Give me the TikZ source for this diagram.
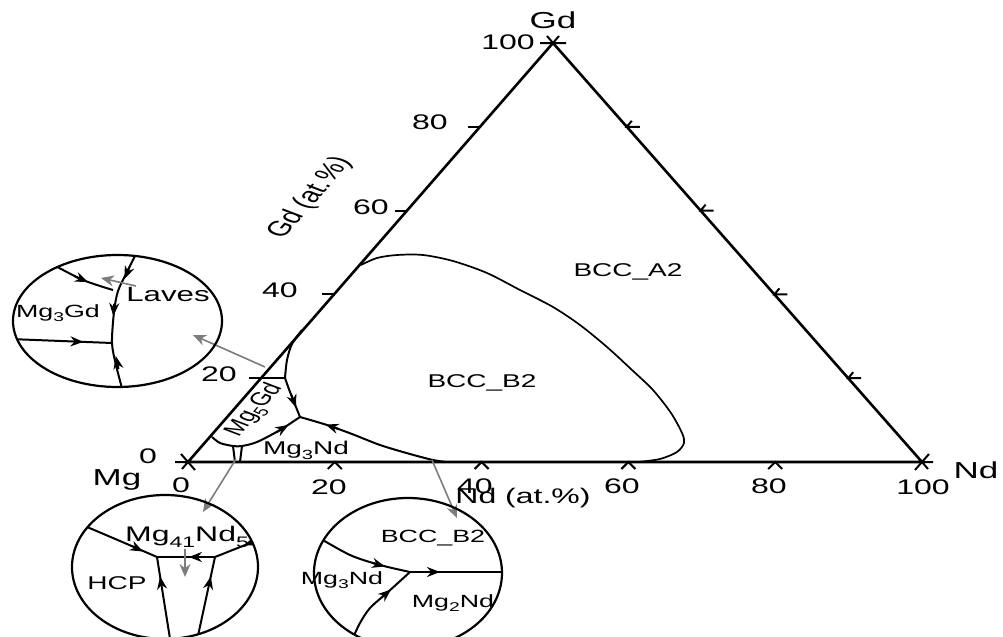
\documentclass[tikz,border=0pt]{standalone}
\usepackage{fontspec}
\setmainfont{Liberation Sans}
\usetikzlibrary{arrows.meta,decorations.markings}
\newcommand\sqz[1]{\scalebox{1}[0.66]{#1}}
\newcommand\sqr[2]{\scalebox{1}[0.66]{\rotatebox{#1}{#2}}}
\newcommand\sbs[1]{\raisebox{-0.5ex}{\scalebox{0.72}{#1}}}
\tikzset{
  edge/.style={line width=1.3pt},
  bnd/.style={line width=0.85pt},
  ln/.style={line width=1pt},
  circ/.style={line width=1.1pt},
  tip/.style={line width=1pt, -{Stealth[length=6.5pt,width=5pt]}},
  gry/.style={line width=0.8pt, draw={rgb,255:red,125;green,125;blue,125}, -{Stealth[length=6.5pt,width=5.5pt]}},
  ar/.style={postaction={decorate,decoration={markings,mark=at position #1 with {\arrow{Stealth[length=6.5pt,width=5pt]}}}}},
  ax/.style={font=\fontsize{16}{18}\selectfont, inner sep=0pt},
  big/.style={font=\fontsize{17.5}{19}\selectfont, inner sep=0pt},
  ph/.style={font=\fontsize{14}{16}\selectfont, inner sep=0pt},
  cl/.style={font=\fontsize{13.4}{15}\selectfont, inner sep=0pt},
}
\begin{document}
\begin{tikzpicture}[x=0.5pt,y=-0.5pt]
\useasboundingbox (0,0) rectangle (1003,637);
% triangle
\coordinate (Mg) at (188,462);
\coordinate (Nd) at (922,462);
\coordinate (Gd) at (553,43);
\draw[edge] (Mg) -- (Nd) -- (Gd) -- cycle;
% corner crosses
\draw[ln] (175,462) -- (Mg) (Mg) -- (182,469) (181,454) -- (195,470);
\draw[ln] (540,43) -- (566,43) (Gd) -- (559,36) (Gd) -- (547,36);
\draw[ln] (Nd) -- (933,462) (Nd) -- (928,469) (915,470) -- (929,454);
% ticks
\foreach \x in {334.8,481.6,628.4,775.2} \draw[ln] (\x-7,469) -- (\x,462) -- (\x+7,469);
\foreach \k in {1,2,3,4} {
  \draw[ln] (188+\k*73-12, 462-\k*83.8) -- (188+\k*73, 462-\k*83.8);
  \draw[ln] (922-\k*73.8+13, 462-\k*83.8) -- (922-\k*73.8, 462-\k*83.8) -- (922-\k*73.8+5, 462-\k*83.8-6);
}
% axis labels
\node[big] (lGd) at (553,20) {\sqz{Gd}};
\node[big] (lNd) at (976,470) {\sqz{Nd}};
\node[big] (lMg) at (117,480) {\sqz{Mg}};
\node[ax] (g100) at (508,42) {\sqz{100}};
\node[ax] (g80) at (430,122) {\sqz{80}};
\node[ax] (g60) at (371,207) {\sqz{60}};
\node[ax] (g40) at (280,290) {\sqz{40}};
\node[ax] (g20) at (219,374) {\sqz{20}};
\node[ax] (g0) at (148,456) {\sqz{0}};
\node[ax] (n0) at (181,485) {\sqz{0}};
\node[ax] (n20) at (329,487) {\sqz{20}};
\node[ax] (n40) at (475,486) {\sqz{40}};
\node[ax] (n60) at (622,486) {\sqz{60}};
\node[ax] (n80) at (769,486) {\sqz{80}};
\node[ax] (n100) at (923,487) {\sqz{100}};
\node[ax] (tGd) at (310,198) {\sqr{60}{Gd (at.\%)}};
\node[ax] (tNd) at (523,498) {\sqz{Nd (at.\%)}};
% BCC_B2 boundary
\draw[bnd] plot[smooth] coordinates {(361,265) (377,258) (397,255) (423,255) (453,261) (487,273) (520,290) (553,307) (580,325) (607,347) (632,370) (653,390) (671,413) (682,433) (684,443) (677,452) (660,459) (638,462)};
% Laves sliver
\draw[ln] plot[smooth] coordinates {(302,330) (292,344) (287,360) (285,378)};
\draw[ln] (261,378) -- (285,378);
\coordinate (J1) at (300,417);
\draw[ln] plot[smooth] coordinates {(285,378) (290,392) (296,407) (J1)};
\draw[tip] (291.5,395) -- (296,407.5);
\draw[ln] plot[smooth] coordinates {(J1) (327,425) (352,434) (380,445) (410,454) (433,460) (446,462)};
\draw[tip] (338,428.8) -- (325.5,424.5);
\draw[ln] plot[smooth] coordinates {(212,437) (220,443) (233,446) (242,446) (257,442) (280,430) (J1)};
\draw[tip] (276,432.5) -- (288.5,425);
\draw[ln] (233,446) -- (235,462) (242,446) -- (240,462);
% main labels
\node[ph] (A2) at (628,272) {\sqz{BCC\_A2}};
\node[ph] (B2) at (482,383) {\sqz{BCC\_B2}};
\node[ph] (m5) at (255,410) {\sqr{60}{Mg\sbs{5}Gd}};
\node[ph] (m3) at (306,450) {\sqz{Mg\sbs{3}Nd}};
% gray pointers
\coordinate (p1a) at (265,367); \coordinate (p1b) at (193,335);
\coordinate (p2a) at (236,459); \coordinate (p2b) at (203,512);
\coordinate (p3a) at (432,460); \coordinate (p3b) at (457,518);
\draw[gry] (p1a) -- (p1b);
\draw[gry] (p2a) -- (p2b);
\draw[gry] (p3a) -- (p3b);
% circle 1
\begin{scope}
\clip (117.5,321) ellipse [x radius=104.5, y radius=66];
\draw[ln] plot[smooth] coordinates {(138,250) (127,272) (118,291) (114,312) (112,343) (116,365) (123,392)};
\draw[tip] (129.5,267) -- (124.5,279);
\draw[tip] (114.2,304) -- (113.3,316);
\draw[tip] (118.5,369) -- (115.8,356);
\draw[ln] plot[smooth] coordinates {(50,263) (83,280) (113,290)};
\draw[tip] (75,276.5) -- (88,282);
\draw[ln, ar=0.72] (10,339) -- (112,343);
\draw[gry] (136,286) -- (101,278);
\end{scope}
\draw[circ] (117.5,321) ellipse [x radius=104.5, y radius=66];
\node[cl] (c1a) at (58,313) {\sqz{Mg\sbs{3}Gd}};
\node[ph] (c1b) at (168,295) {\sqz{\fontsize{15.6}{17}\selectfont Laves}};
% circle 2
\begin{scope}
\clip (165,567) ellipse [x radius=93, y radius=72];
\draw[ln] plot[smooth] coordinates {(80,524) (120,541) (157,557)};
\draw[tip] (132,546) -- (143,551.5);
\draw[ln, ar=0.45] (215,557) -- (157,557);
\draw[ln, ar=0.45] (268,536) -- (215,557);
\draw[ln, ar=0.78] (171,645) -- (157,557);
\draw[ln, ar=0.78] (196,645) -- (215,557);
\draw[gry] (185,549) -- (185,577);
\end{scope}
\draw[circ] (165,567) ellipse [x radius=93, y radius=72];
\node[ph] (c2a) at (187,537) {\sqz{\fontsize{16}{18}\selectfont Mg\sbs{41}Nd\sbs{5}}};
\node[ph] (c2b) at (117,583) {\sqz{HCP}};
% circle 3
\begin{scope}
\clip (408,573) ellipse [x radius=94, y radius=75];
\draw[ln] plot[smooth] coordinates {(316,536) (350,555) (380,565) (410,572)};
\draw[tip] (372,562.8) -- (385,566.5);
\draw[ln, ar=0.3] (410,572) -- (510,572);
\draw[ln] plot[smooth] coordinates {(352,640) (360,623) (370,608) (388,592) (410,572)};
\draw[tip] (381,598) -- (391,589.5);
\end{scope}
\draw[circ] (408,573) ellipse [x radius=94, y radius=75];
\node[cl] (c3a) at (433,538) {\sqz{BCC\_B2}};
\node[cl] (c3b) at (342,580) {\sqz{Mg\sbs{3}Nd}};
\node[cl] (c3c) at (453,603) {\sqz{Mg\sbs{2}Nd}};
\end{tikzpicture}
\end{document}
